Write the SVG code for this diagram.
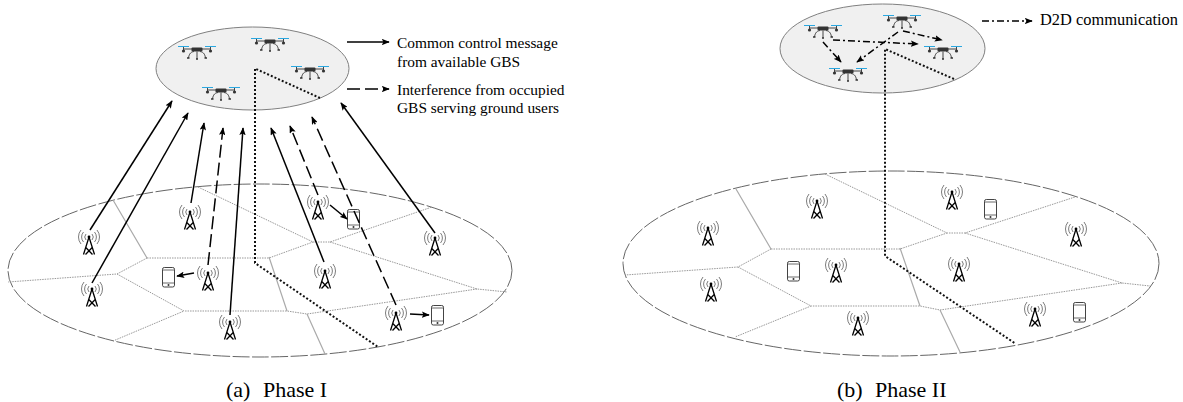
<svg xmlns="http://www.w3.org/2000/svg" width="1183" height="402" viewBox="0 0 1183 402">
<style>
text{font-family:"Liberation Serif","Times New Roman",serif;fill:#000}
.lab{font-size:15.400px}
.d2d{font-size:16.400px}
.cap{font-size:22px}
.sky{fill:#f0f0f0;stroke:#808080;stroke-width:1}
.ground{fill:none;stroke:#666;stroke-width:1;stroke-dasharray:17 2.500}
.cell{fill:none;stroke:#999;stroke-width:1;stroke-dasharray:1.500 1}
.edge{fill:none;stroke:#aaa;stroke-width:1.200}
.link{fill:none;stroke:#111;stroke-width:2;stroke-dasharray:2 2}
.sol{fill:none;stroke:#000;stroke-width:1.500;marker-end:url(#head)}
.das{fill:none;stroke:#000;stroke-width:1.500;stroke-dasharray:13 5;marker-end:url(#head)}
.dd{fill:none;stroke:#000;stroke-width:1.500;stroke-dasharray:7 3 2 3;marker-end:url(#head)}
</style>
<defs>
<marker id="head" viewBox="0 0 10 8" refX="9" refY="4" markerWidth="8" markerHeight="6.400" markerUnits="userSpaceOnUse" orient="auto"><path d="M0 0L10 4L0 8L2 4Z" fill="#000"/></marker>
<symbol id="tower" overflow="visible" viewBox="-12 -9 24 28" width="24" height="28">
<g fill="none" stroke="#444" stroke-width=".7">
<path d="M-3-3A4.500 4.500 0 0 0-3 3M3-3A4.500 4.500 0 0 1 3 3M-5.500-5A7.500 7.500 0 0 0-5.500 5M5.500-5A7.500 7.500 0 0 1 5.500 5M-8-7A11 11 0 0 0-8 7M8-7A11 11 0 0 1 8 7"/>
</g>
<circle r="1.400" fill="#000"/>
<path d="M0 0L-5.500 17.500M0 0L5.500 17.500M-3.200 10.500L3.500 17.500M3.200 10.500L-3.500 17.500" fill="none" stroke="#000" stroke-width="1.300"/>
</symbol>
<symbol id="phone" overflow="visible" viewBox="0 0 13 20" width="13" height="20">
<rect x=".5" y=".5" width="12" height="19.500" rx="1.800" fill="#fff" stroke="#444" stroke-width="1"/>
<path d="M.5 3H12.500M.5 16H12.500" stroke="#444" stroke-width=".8"/>
<circle cx="6.500" cy="18" r="1" fill="#333"/>
</symbol>
<symbol id="drone" overflow="visible" viewBox="-20 -9 40 24" width="40" height="24">
<path d="M-13.500-2.500V3M13.500-2.500V3M-13.500 0H13.500" stroke="#444" stroke-width="1" fill="none"/>
<path d="M-19-2.500H-8M8-2.500H19" stroke="#2aa7e0" stroke-width="1.100"/>
<rect x="-5.500" y="-1.500" width="11" height="4" rx="1" fill="#333"/>
<circle cx="-13.500" cy="2" r="1.600" fill="#333"/><circle cx="13.500" cy="2" r="1.600" fill="#333"/>
<path d="M-3 2.500C-7 3-8 6-8.500 9M3 2.500C7 3 8 6 8.500 9M0 2.500V10" fill="none" stroke="#444" stroke-width="1"/>
<path d="M-10 9H-7.500M7.500 9H10M-1 10H1" stroke="#333" stroke-width="1.400"/>
</symbol>
</defs>

<g id="phase1-ground"><ellipse class="ground" cx="260" cy="270.500" rx="252" ry="86.500"/></g>
<g id="phase1-cells">
<path class="edge" d="M113 200L147 258M269 257L287 311M307 314L325 354"/>
<path class="cell" d="M147 258L117 274L8 282M117 274L184 311L113 341M198 187L313 242L330 242L432 207M330 242L477 289L507 292M477 289L307 314L287 311L184 311M147 258H269L313 242"/>
</g>
<g id="phase1-sky"><ellipse class="sky" cx="252.500" cy="68.500" rx="96.500" ry="41.500"/></g>
<g id="phase1-backhaul"><path class="link" d="M320 98L255 68.500V263L378 347"/></g>

<g id="phase2-ground"><ellipse class="ground" cx="891" cy="263.500" rx="268" ry="92.500"/></g>
<g id="phase2-cells">
<path class="edge" d="M736 189L771 249M900 248L920 306M940 310L960 352"/>
<path class="cell" d="M771 249L738 267L625 275M738 267L811 306L735 337M825 174L947 233L965 233L1075 197M965 233L1122 283L1150 286M1122 283L940 310L920 306L811 306M771 249H900L947 233"/>
</g>
<g id="phase2-sky"><ellipse class="sky" cx="882.500" cy="48.500" rx="102.500" ry="44.500"/></g>
<g id="phase2-backhaul"><path class="link" d="M954 79L885 49V256L1016 344"/></g>

<g id="drone-a1"><use href="#drone" x="177" y="40"/></g>
<g id="drone-a2"><use href="#drone" x="250" y="32"/></g>
<g id="drone-a3"><use href="#drone" x="290" y="60"/></g>
<g id="drone-a4"><use href="#drone" x="201" y="81"/></g>
<g id="drone-b1"><use href="#drone" x="803" y="19"/></g>
<g id="drone-b2"><use href="#drone" x="882" y="9"/></g>
<g id="drone-b3"><use href="#drone" x="923" y="40"/></g>
<g id="drone-b4"><use href="#drone" x="828" y="62"/></g>

<g id="tower-a1"><use href="#tower" x="77" y="228"/></g>
<g id="tower-a2"><use href="#tower" x="80" y="280"/></g>
<g id="tower-a3"><use href="#tower" x="178" y="203"/></g>
<g id="tower-a4"><use href="#tower" x="196" y="264"/></g>
<g id="tower-a5"><use href="#tower" x="218" y="313"/></g>
<g id="tower-a6"><use href="#tower" x="306" y="193"/></g>
<g id="tower-a7"><use href="#tower" x="313" y="262"/></g>
<g id="tower-a8"><use href="#tower" x="423" y="229"/></g>
<g id="tower-a9"><use href="#tower" x="384" y="304"/></g>
<g id="phone-a1"><use href="#phone" x="162" y="267"/></g>
<g id="phone-a2"><use href="#phone" x="347" y="209"/></g>
<g id="phone-a3"><use href="#phone" x="431" y="305"/></g>

<g id="tower-b1"><use href="#tower" x="696" y="219"/></g>
<g id="tower-b2"><use href="#tower" x="805" y="192"/></g>
<g id="tower-b3"><use href="#tower" x="824" y="256"/></g>
<g id="tower-b4"><use href="#tower" x="699" y="275"/></g>
<g id="tower-b5"><use href="#tower" x="846" y="309"/></g>
<g id="tower-b6"><use href="#tower" x="940" y="183"/></g>
<g id="tower-b7"><use href="#tower" x="1064" y="220"/></g>
<g id="tower-b8"><use href="#tower" x="947" y="255"/></g>
<g id="tower-b9"><use href="#tower" x="1023" y="300"/></g>
<g id="phone-b1"><use href="#phone" x="787" y="261"/></g>
<g id="phone-b2"><use href="#phone" x="984" y="199"/></g>
<g id="phone-b3"><use href="#phone" x="1073" y="302"/></g>

<g id="connectors">
<path class="sol" d="M90 230L172 101"/>
<path class="sol" d="M92 283L188 113"/>
<path class="sol" d="M191 203L204 123"/>
<path class="das" d="M208 265L223 128"/>
<path class="sol" d="M230 315L243 128"/>
<path class="sol" d="M324 262L271 128"/>
<path class="das" d="M318 195L290 126"/>
<path class="das" d="M396 305L312 117"/>
<path class="sol" d="M435 233L341 103"/>
<path class="sol" d="M194 273L177 276"/>
<path class="sol" d="M330 205L347 219"/>
<path class="sol" d="M410 314L429 315"/>
<path class="sol" d="M347 42H389"/>
<path class="das" d="M347 89H389"/>
<path class="dd" d="M833 40L918 44"/>
<path class="dd" d="M903 31L942 40"/>
<path class="dd" d="M898 32L857 62"/>
<path class="dd" d="M823 42L841 62"/>
<path class="dd" d="M982 21H1032"/>
</g>

<g id="legend">
<text class="lab" x="397" y="48">Common control message</text>
<text class="lab" x="397" y="67">from available GBS</text>
<text class="lab" x="397" y="95">Interference from occupied</text>
<text class="lab" x="397" y="113">GBS serving ground users</text>
<text class="d2d" x="1040" y="25">D2D communication</text>
</g>
<g id="captions">
<text class="cap" x="226" y="397">(a) <tspan x="263">Phase I</tspan></text>
<text class="cap" x="837" y="397">(b) <tspan x="875">Phase II</tspan></text>
</g>
</svg>
